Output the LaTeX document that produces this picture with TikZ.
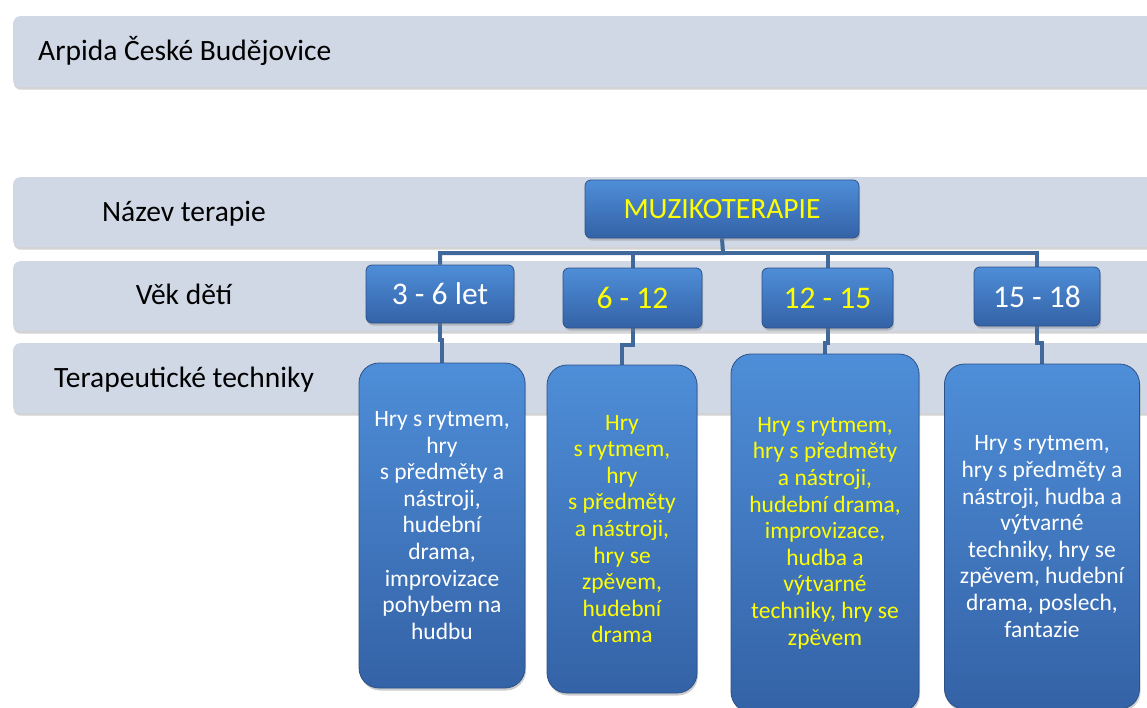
\documentclass[tikz,border=0pt]{standalone}
\usepackage{fontspec}
\setmainfont{Carlito}
\usetikzlibrary{shadows}

\definecolor{bandfill}{RGB}{208,216,230}
\definecolor{boxtop}{RGB}{78,142,216}
\definecolor{boxbot}{RGB}{52,98,166}
\definecolor{boxedge}{RGB}{44,82,136}
\definecolor{linkcol}{RGB}{64,104,154}
\definecolor{hiyellow}{RGB}{255,255,0}

\pgfdeclarelayer{back}
\pgfdeclarelayer{mid}
\pgfsetlayers{back,mid,main}

\begin{document}
\begin{tikzpicture}[x=1pt,y=-1pt,
  band/.style={rounded corners=7pt, fill=bandfill, draw=none,
    drop shadow={shadow xshift=0.5pt, shadow yshift=-2.5pt, opacity=0.35}},
  bandlabel/.style={inner sep=0pt, font=\fontsize{29.5}{35}\selectfont, text=black},
  bluebox/.style={draw=boxedge, line width=0.8pt, top color=boxtop, bottom color=boxbot,
    drop shadow={shadow xshift=1pt, shadow yshift=-2.5pt, opacity=0.4},
    inner sep=0pt, align=center},
  titlebox/.style={bluebox, rounded corners=6pt, font=\fontsize{29.5}{35}\selectfont},
  agebox/.style={bluebox, rounded corners=6pt, font=\fontsize{31.5}{38}\selectfont},
  techbox/.style={bluebox, rounded corners=20pt, font=\fontsize{23.5}{26.6}\selectfont},
  link/.style={draw=linkcol, line width=4pt}
]
\useasboundingbox (0,0) rectangle (1147,707);
\clip (0,0) rectangle (1147,707);

% background bands
\begin{pgfonlayer}{back}
\node[band, anchor=north west, minimum width=1160pt, minimum height=71pt] (head) at (13,16) {};
\node[band, anchor=north west, minimum width=1160pt, minimum height=70pt] (rowname) at (13,177) {};
\node[band, anchor=north west, minimum width=1160pt, minimum height=70pt] (rowage) at (13,261) {};
\node[band, anchor=north west, minimum width=1160pt, minimum height=70pt] (rowtech) at (13,343) {};

% band captions
\node[bandlabel, anchor=base west] (headtext) at (38,60) {Arpida České Budějovice};
\node[bandlabel, anchor=base] (nametext) at (184,221) {Název terapie};
\node[bandlabel, anchor=base] (agetext) at (184,304) {Věk dětí};
\node[bandlabel, anchor=base] (techtext) at (184,387) {Terapeutické techniky};
\end{pgfonlayer}

% therapy name
\node[titlebox, minimum width=274pt, minimum height=58pt, text=hiyellow] (muz) at (722,209) {MUZIKOTERAPIE};

% age groups
\node[agebox, minimum width=148pt, minimum height=58pt, text=white] (a1) at (440,294) {3 - 6 let};
\node[agebox, minimum width=139pt, minimum height=60pt, text=hiyellow] (a2) at (632.5,298) {6 - 12};
\node[agebox, minimum width=131pt, minimum height=60pt, text=hiyellow] (a3) at (827.5,298) {12 - 15};
\node[agebox, minimum width=126pt, minimum height=59pt, text=white] (a4) at (1037,296.5) {15 - 18};

% techniques
\node[techbox, minimum width=166pt, minimum height=325pt, text=white] (t1) at (442,525.5)
  {Hry s rytmem,\\ hry\\ s předměty a\\ nástroji,\\ hudební\\ drama,\\ improvizace\\ pohybem na\\ hudbu};
\node[techbox, minimum width=150pt, minimum height=328pt, text=hiyellow] (t2) at (622,529)
  {Hry\\ s rytmem,\\ hry\\ s předměty\\ a nástroji,\\ hry se\\ zpěvem,\\ hudební\\ drama};
\node[techbox, minimum width=188pt, minimum height=358pt, text=hiyellow] (t3) at (825,533)
  {Hry s rytmem,\\ hry s předměty\\ a nástroji,\\ hudební drama,\\ improvizace,\\ hudba a\\ výtvarné\\ techniky, hry se\\ zpěvem};
\node[techbox, minimum width=195pt, minimum height=345pt, text=white] (t4) at (1042,536.5)
  {Hry s rytmem,\\ hry s předměty a\\ nástroji, hudba a\\ výtvarné\\ techniky, hry se\\ zpěvem, hudební\\ drama, poslech,\\ fantazie};

% connectors, drawn beneath the boxes
\begin{pgfonlayer}{mid}
\coordinate (bus) at (723,253);
\draw[link] (muz.south) -- (bus) -| (a1.north);
\draw[link] (bus) -| (a2.north);
\draw[link] (bus) -| (a3.north);
\draw[link] (bus) -| (a4.north);
\draw[link] (a1.south) -- ++(0,17) -| (t1.north);
\draw[link] (a2.south) -- ++(0,17) -| (t2.north);
\draw[link] (a3.south) -- ++(0,15) -| (t3.north);
\draw[link] (a4.south) -- ++(0,17) -| (t4.north);
\end{pgfonlayer}
\end{tikzpicture}
\end{document}
